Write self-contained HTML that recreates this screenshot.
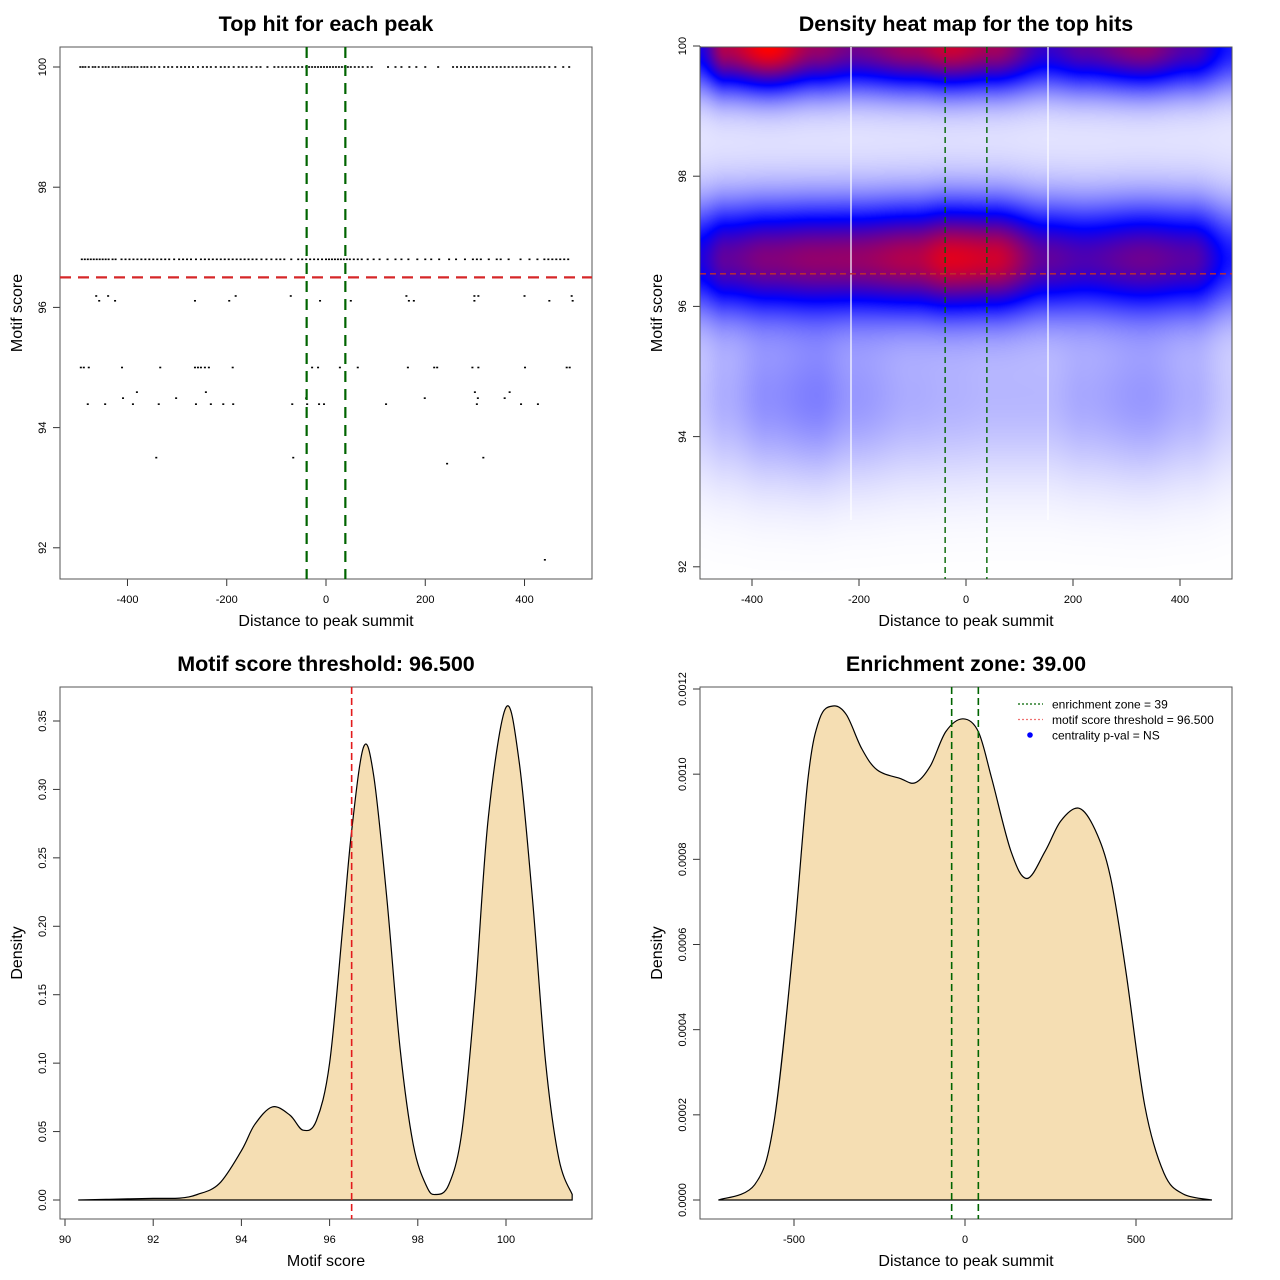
<!DOCTYPE html>
<html><head><meta charset="utf-8">
<style>
html,body{margin:0;padding:0;background:#fff;}
#wrap{position:relative;width:1280px;height:1280px;overflow:hidden;font-family:"Liberation Sans",Arial,sans-serif;}
canvas{position:absolute;left:700px;top:47px;}
svg{position:absolute;left:0;top:0;}
text{font-family:"Liberation Sans",Arial,sans-serif;}
</style></head>
<body>
<div id="wrap">
<canvas id="heat" width="532" height="532"></canvas>
<svg id="svg" width="1280" height="1280" xmlns="http://www.w3.org/2000/svg"></svg>
</div>
<script>
// ---------- DATA ----------
const row100 = [-495,-490,-485,-478,-470,-465,-458,-450,-444,-438,-430,-424,-418,-410,-404,-398,-392,-386,-380,-372,-366,-360,-352,-345,-336,-326,-318,-310,-300,-292,-284,-276,-268,-258,-248,-240,-232,-222,-212,-204,-196,-186,-176,-168,-160,-150,-140,-132,-118,-104,-96,-88,-80,-72,-64,-56,-48,-40,-34,-28,-22,-16,-10,-4,2,8,14,20,26,32,38,44,50,58,66,74,84,92,125,140,152,168,182,200,226,256,264,272,280,288,296,304,312,320,328,336,344,352,360,368,376,384,392,400,408,416,424,432,440,450,462,478,490];
const row968 = [-492,-486,-480,-474,-468,-462,-456,-450,-444,-438,-430,-424,-412,-404,-396,-388,-380,-372,-364,-356,-348,-340,-332,-324,-316,-306,-296,-288,-280,-272,-262,-252,-244,-236,-228,-220,-212,-204,-196,-188,-180,-172,-164,-156,-148,-140,-130,-120,-110,-100,-92,-84,-70,-56,-48,-40,-32,-24,-16,-8,0,6,12,18,24,30,36,42,48,56,64,72,84,96,108,124,140,152,166,184,200,212,228,248,262,280,296,304,312,328,344,352,368,392,410,426,440,448,456,464,472,480,488];
const rowSparse = [
 {s:96.19, d:[-463,-439,-182,-71,162,299,307,400,495]},
 {s:96.11, d:[-457,-425,-264,-195,-12,50,167,177,299,450,497]},
 {s:95.00, d:[-494,-488,-478,-411,-334,-264,-258,-252,-244,-236,-188,-28,-16,28,64,165,218,224,295,307,401,485,491]},
 {s:94.59, d:[-381,-242,300,370]},
 {s:94.49, d:[-409,-302,-40,199,306,360]},
 {s:94.39, d:[-480,-445,-389,-337,-262,-232,-207,-187,-68,-38,-14,-4,121,304,393,427]},
 {s:93.50, d:[-342,-66,317]},
 {s:93.40, d:[244]},
 {s:91.80, d:[441]}
];
const bandCenter = [100.0, 96.75, 94.6, 98.4];
const bandSigma = [0.5, 0.62, 0.9, 0.6];
const bandKnotX = [-500,-450,-370,-280,-210,-100,-30,50,150,220,330,420,500];
const band1Amp = [0.55,0.85,1.0,0.8,0.72,0.82,0.9,0.82,0.6,0.68,0.78,0.65,0.45];
const band2Amp = [0.55,0.68,0.74,0.77,0.78,0.84,0.93,0.9,0.68,0.64,0.7,0.66,0.45];
const band3Amp = [0.12,0.16,0.22,0.25,0.2,0.16,0.15,0.14,0.14,0.17,0.2,0.16,0.1];
const band4Amp = [0.04,0.04,0.04,0.04,0.04,0.04,0.04,0.04,0.04,0.04,0.04,0.04,0.04];
const scoreX = [90.3,91,92,92.6,93,93.5,94,94.3,94.7,95.1,95.4,95.7,96,96.3,96.5,96.77,97,97.3,97.6,97.9,98.2,98.4,98.7,99,99.3,99.6,100,100.3,100.6,100.9,101.2,101.5];
const scoreD = [0,0.0005,0.0012,0.0014,0.004,0.012,0.036,0.055,0.068,0.062,0.051,0.058,0.1,0.2,0.27,0.331,0.31,0.22,0.11,0.04,0.01,0.004,0.011,0.05,0.15,0.28,0.36,0.32,0.22,0.1,0.03,0.004];
const distX = [-721,-615,-559,-503,-459,-425,-386,-347,-302,-257,-190,-145,-101,-56,-6,39,78,134,181,235,280,333,380,425,470,526,582,638,722];
const distD = [0,0.000036,0.00018,0.00059,0.00099,0.00113,0.00116,0.00114,0.00106,0.00101,0.00099,0.00098,0.00102,0.0011,0.00113,0.0011,0.00099,0.00082,0.000755,0.00082,0.00089,0.00092,0.00087,0.00076,0.00054,0.00022,0.000063,0.000014,0];
const ticksDist = [-400,-200,0,200,400];
const ticksScore = [92,94,96,98,100];
const ticksScoreX = [90,92,94,96,98,100];
const ticksDens1 = [0,0.05,0.1,0.15,0.2,0.25,0.3,0.35];
const ticksDens1Lab = ["0.00","0.05","0.10","0.15","0.20","0.25","0.30","0.35"];
const ticksDist2 = [-500,0,500];
const ticksDens2 = [0,0.0002,0.0004,0.0006,0.0008,0.001,0.0012];
const ticksDens2Lab = ["0.0000","0.0002","0.0004","0.0006","0.0008","0.0010","0.0012"];
const threshold = 96.5;
const zone = 39;

// ---------- AXES ----------
const P = {
 tl:{x0:60,x1:592,y0:47,y1:579},
 tr:{x0:700,x1:1232,y0:47,y1:579},
 bl:{x0:60,x1:592,y0:687,y1:1219},
 br:{x0:700,x1:1232,y0:687,y1:1219}
};
const xTL = v => 326 + v*0.4963;
const yTL = v => 67 + (100-v)*60.1;
const xTR = v => 966 + v*0.535;
const yTR = v => 46 + (100-v)*65.1;
const xBL = v => 65 + (v-90)*44.1;
const yBL = v => 1200 - v*1368.6;
const xBR = v => 965 + v*0.342;
const yBR = v => 1200 - v*425833;

const NS="http://www.w3.org/2000/svg";
const svg=document.getElementById('svg');
function mk(tag,attrs,parent){const e=document.createElementNS(NS,tag);for(const k in attrs)e.setAttribute(k,attrs[k]);(parent||svg).appendChild(e);return e;}
function txt(s,x,y,size,opts,parent){const e=mk('text',Object.assign({x:x,y:y,'font-size':size,'text-anchor':'middle',fill:'#000'},opts||{}),parent);e.textContent=s;return e;}

function panel(key,name,title,xlab,ylab,xt,xs,xl,yt,ys,yl){
 const p=P[key];
 const g=mk('g',{});
 
 
 const t=txt(title,(p.x0+p.x1)/2,p.y0-16,21.5,{'font-weight':'bold'},g);
 
 const xa=mk('g',{},g);
 
 const xmin=xs(xt[0]),xmax=xs(xt[xt.length-1]);
 mk('line',{x1:xmin,x2:xmax,y1:p.y1,y2:p.y1,stroke:'#333','stroke-width':1},xa);
 xt.forEach((v,i)=>{const X=xs(v);mk('line',{x1:X,x2:X,y1:p.y1,y2:p.y1+7,stroke:'#333'},xa);txt(xl[i],X,p.y1+24,11,{},xa);});
 const xtl=txt(xlab,(p.x0+p.x1)/2,p.y1+47,16,{},g);
 
 const ya=mk('g',{},g);
 
 mk('line',{x1:p.x0,x2:p.x0,y1:ys(yt[0]),y2:ys(yt[yt.length-1]),stroke:'#333'},ya);
 yt.forEach((v,i)=>{const Y=ys(v);mk('line',{x1:p.x0-7,x2:p.x0,y1:Y,y2:Y,stroke:'#333'},ya);
   txt(yl[i],p.x0-14,Y,11,{transform:'rotate(-90 '+(p.x0-14)+' '+Y+')'},ya);});
 const cy=(p.y0+p.y1)/2;
 const ytl=txt(ylab,p.x0-38,cy,16,{transform:'rotate(-90 '+(p.x0-38)+' '+cy+')'},g);
 
 const box=mk('rect',{x:p.x0,y:p.y0,width:p.x1-p.x0,height:p.y1-p.y0,fill:'none',stroke:'#555','stroke-width':1},g);
 
 return g;
}
function clip(id,p){const c=mk('clipPath',{id:id});mk('rect',{x:p.x0,y:p.y0,width:p.x1-p.x0,height:p.y1-p.y0},c);}
clip('ctl',P.tl);clip('ctr',P.tr);clip('cbl',P.bl);clip('cbr',P.br);

function smoothPath(xs,ys){
 let d='M'+xs[0].toFixed(1)+','+ys[0].toFixed(1);
 for(let i=0;i<xs.length-1;i++){
  const x0=xs[Math.max(0,i-1)],y0=ys[Math.max(0,i-1)],x1=xs[i],y1=ys[i],x2=xs[i+1],y2=ys[i+1],x3=xs[Math.min(xs.length-1,i+2)],y3=ys[Math.min(xs.length-1,i+2)];
  const c1x=x1+(x2-x0)/6,c1y=y1+(y2-y0)/6,c2x=x2-(x3-x1)/6,c2y=y2-(y3-y1)/6;
  d+=' C'+c1x.toFixed(1)+','+c1y.toFixed(1)+' '+c2x.toFixed(1)+','+c2y.toFixed(1)+' '+x2.toFixed(1)+','+y2.toFixed(1);
 }
 return d;
}

// ---------- TOP LEFT ----------
const gtl=panel('tl','top-hit-scatter','Top hit for each peak','Distance to peak summit','Motif score',
 ticksDist,xTL,ticksDist.map(String),ticksScore,yTL,ticksScore.map(String));
const pts=mk('g',{'clip-path':'url(#ctl)'},gtl);

function dot(d,s){mk('rect',{x:xTL(d)-1,y:yTL(s)-0.8,width:2,height:1.6,fill:'#000'},pts);}
row100.forEach(d=>dot(d,100));
row968.forEach(d=>dot(d,96.8));
rowSparse.forEach(r=>r.d.forEach(d=>dot(d,r.s)));
let l=mk('line',{x1:P.tl.x0,x2:P.tl.x1,y1:yTL(threshold),y2:yTL(threshold),stroke:'#d62728','stroke-width':2.2,'stroke-dasharray':'11,7'},gtl);

[-zone,zone].forEach(z=>{const e=mk('line',{x1:xTL(z),x2:xTL(z),y1:P.tl.y0,y2:P.tl.y1,stroke:'#006400','stroke-width':2.2,'stroke-dasharray':'11,7'},gtl);
 });

// ---------- TOP RIGHT ----------
(function(){
 const c=document.getElementById('heat'),ctx=c.getContext('2d');
 const img=ctx.createImageData(532,532);
 function interp(xs,ys,x){if(x<=xs[0])return ys[0];for(let i=0;i<xs.length-1;i++){if(x<=xs[i+1]){const t=(x-xs[i])/(xs[i+1]-xs[i]);const s=t*t*(3-2*t);return ys[i]+(ys[i+1]-ys[i])*s;}}return ys[ys.length-1];}
 const amps=[band1Amp,band2Amp,band3Amp,band4Amp];
 const invX=px=>(px+700-966)/0.535, invY=py=>100-(py+47-46)/65.1;
 for(let px=0;px<532;px++){
  const dx=invX(px);
  const A=amps.map(a=>interp(bandKnotX,a,dx));
  for(let py=0;py<532;py++){
   const s=invY(py);
   let d=0;
   for(let b=0;b<4;b++){const u=(s-bandCenter[b])/bandSigma[b];d+=A[b]*Math.exp(-u*u/2);}
   d=Math.min(1,d);
   let r,g,bb;
   if(d<0.5){const t=d*2;r=g=255*(1-t);bb=255;}else{const t=(d-0.5)*2;r=255*t;g=0;bb=255*(1-t);}
   const i=(py*532+px)*4;img.data[i]=r;img.data[i+1]=g;img.data[i+2]=bb;img.data[i+3]=255;
  }
 }
 ctx.putImageData(img,0,0);
})();
const gtr=panel('tr','density-heatmap-panel','Density heat map for the top hits','Distance to peak summit','Motif score',
 ticksDist,xTR,ticksDist.map(String),ticksScore,yTR,ticksScore.map(String));
[851,1048].forEach(X=>{const e=mk('line',{x1:X,x2:X,y1:P.tr.y0,y2:520,stroke:'#fff','stroke-width':1.2},gtr);
 });
l=mk('line',{x1:P.tr.x0,x2:P.tr.x1,y1:yTR(threshold),y2:yTR(threshold),stroke:'#c0302a','stroke-width':1.4,'stroke-dasharray':'6,4'},gtr);

[-zone,zone].forEach(z=>{const e=mk('line',{x1:xTR(z),x2:xTR(z),y1:P.tr.y0,y2:P.tr.y1,stroke:'#006400','stroke-width':1.4,'stroke-dasharray':'6,4'},gtr);
 });

// ---------- BOTTOM LEFT ----------
const gbl=panel('bl','score-density-panel','Motif score threshold: 96.500','Motif score','Density',
 ticksScoreX,xBL,ticksScoreX.map(String),ticksDens1,yBL,ticksDens1Lab);
(function(){
 const xs=scoreX.map(xBL),ys=scoreD.map(yBL);
 const d=smoothPath(xs,ys);
 const a=mk('path',{d:d+' L'+xs[xs.length-1]+','+yBL(0)+' L'+xs[0]+','+yBL(0)+'Z',fill:'#f5deb3',stroke:'#000','stroke-width':1.2},gbl);
 
})();
l=mk('line',{x1:xBL(threshold),x2:xBL(threshold),y1:P.bl.y0,y2:P.bl.y1,stroke:'#e31a1c','stroke-width':1.6,'stroke-dasharray':'7,4'},gbl);


// ---------- BOTTOM RIGHT ----------
const gbr=panel('br','distance-density-panel','Enrichment zone: 39.00','Distance to peak summit','Density',
 ticksDist2,xBR,ticksDist2.map(String),ticksDens2,yBR,ticksDens2Lab);
(function(){
 const xs=distX.map(xBR),ys=distD.map(yBR);
 const d=smoothPath(xs,ys);
 const a=mk('path',{d:d+' L'+xs[xs.length-1]+','+yBR(0)+' L'+xs[0]+','+yBR(0)+'Z',fill:'#f5deb3',stroke:'#000','stroke-width':1.2},gbr);
 
})();
[-zone,zone].forEach(z=>{const e=mk('line',{x1:xBR(z),x2:xBR(z),y1:P.br.y0,y2:P.br.y1,stroke:'#006400','stroke-width':1.6,'stroke-dasharray':'7,4'},gbr);
 });
const lg=mk('g',{},gbr);

const le=[['enrichment zone = 39','#006400'],['motif score threshold = 96.500','#f07070'],['centrality p-val = NS','#0000ff']];
le.forEach((e,i)=>{
 const y=704+i*15.5;
 const g=mk('g',{},lg);
 
 if(i<2)mk('line',{x1:1018,x2:1043,y1:y,y2:y,stroke:e[1],'stroke-width':1.2,'stroke-dasharray':'2,2'},g);
 else mk('circle',{cx:1030,cy:y,r:2.8,fill:e[1]},g);
 txt(e[0],1052,y+4.5,12,{'text-anchor':'start'},g);
});
</script>
</body></html>
